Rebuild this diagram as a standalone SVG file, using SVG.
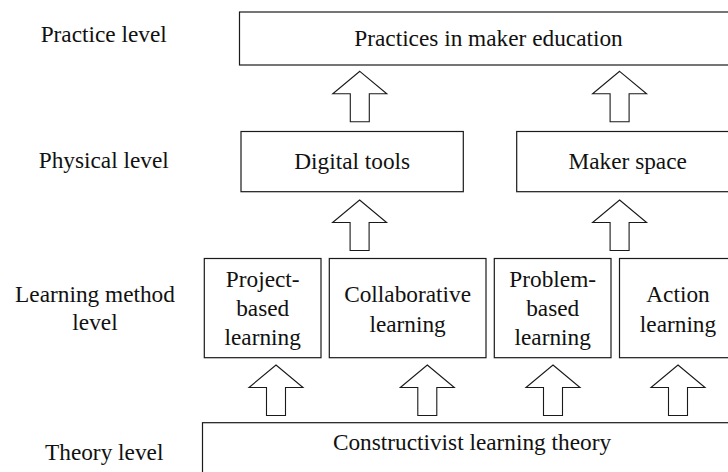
<svg xmlns="http://www.w3.org/2000/svg" width="728" height="472" viewBox="0 0 728 472">
  <style>
    .box { fill: #ffffff; stroke: #1a1a1a; stroke-width: 1.2; }
    .arrow { fill: #ffffff; stroke: #1a1a1a; stroke-width: 1.1; stroke-linejoin: miter; }
    text { font-family: "Liberation Serif", "Times New Roman", serif; font-size: 23.3px; fill: #111111; text-anchor: middle; }
  </style>
  <defs>
    <!-- hollow block arrow pointing up; origin at the tip -->
    <path id="upArrow" class="arrow" d="M0,0 L27,22.5 L9.5,22.5 L9.5,50.5 L-9.5,50.5 L-9.5,22.5 L-27,22.5 Z"/>
  </defs>

  <rect width="728" height="472" fill="#ffffff"/>

  <!-- level labels -->
  <g id="level-labels">
    <text x="103.7" y="42">Practice level</text>
    <text x="103.7" y="168.3">Physical level</text>
    <text x="95" y="302">Learning method</text>
    <text x="95" y="330">level</text>
    <text x="104.2" y="460">Theory level</text>
  </g>

  <!-- practice level -->
  <g id="practices">
    <rect class="box" x="239.5" y="12" width="499" height="53"/>
    <text x="488.5" y="46">Practices in maker education</text>
  </g>

  <!-- physical level -->
  <g id="digital-tools">
    <rect class="box" x="241" y="131.5" width="222.3" height="60.2"/>
    <text x="352.2" y="168.5">Digital tools</text>
  </g>
  <g id="maker-space">
    <rect class="box" x="516.7" y="131.5" width="222" height="60.2"/>
    <text x="627.7" y="168.5">Maker space</text>
  </g>

  <!-- learning method level -->
  <g id="project-based">
    <rect class="box" x="204.3" y="258.5" width="116.7" height="99.2"/>
    <text x="262.7" y="287">Project-</text>
    <text x="262.7" y="316">based</text>
    <text x="262.7" y="345">learning</text>
  </g>
  <g id="collaborative">
    <rect class="box" x="329.3" y="258.5" width="156.7" height="99.2"/>
    <text x="407.6" y="302">Collaborative</text>
    <text x="407.6" y="332">learning</text>
  </g>
  <g id="problem-based">
    <rect class="box" x="494.3" y="258.5" width="116.7" height="99.2"/>
    <text x="552.7" y="287">Problem-</text>
    <text x="552.7" y="316">based</text>
    <text x="552.7" y="345">learning</text>
  </g>
  <g id="action">
    <rect class="box" x="619.5" y="258.5" width="117" height="99.2"/>
    <text x="678" y="302">Action</text>
    <text x="678" y="332">learning</text>
  </g>

  <!-- theory level -->
  <g id="constructivist">
    <rect class="box" x="202.5" y="422.7" width="540" height="60"/>
    <text x="472" y="450">Constructivist learning theory</text>
  </g>

  <!-- connectors -->
  <g id="connectors">
    <use href="#upArrow" x="359.8" y="71.3"/>
    <use href="#upArrow" x="619.6" y="71.3"/>
    <use href="#upArrow" x="359.6" y="200"/>
    <use href="#upArrow" x="619.6" y="200"/>
    <use href="#upArrow" x="276" y="365"/>
    <use href="#upArrow" x="427.3" y="365"/>
    <use href="#upArrow" x="553" y="365"/>
    <use href="#upArrow" x="678" y="365"/>
  </g>
</svg>
